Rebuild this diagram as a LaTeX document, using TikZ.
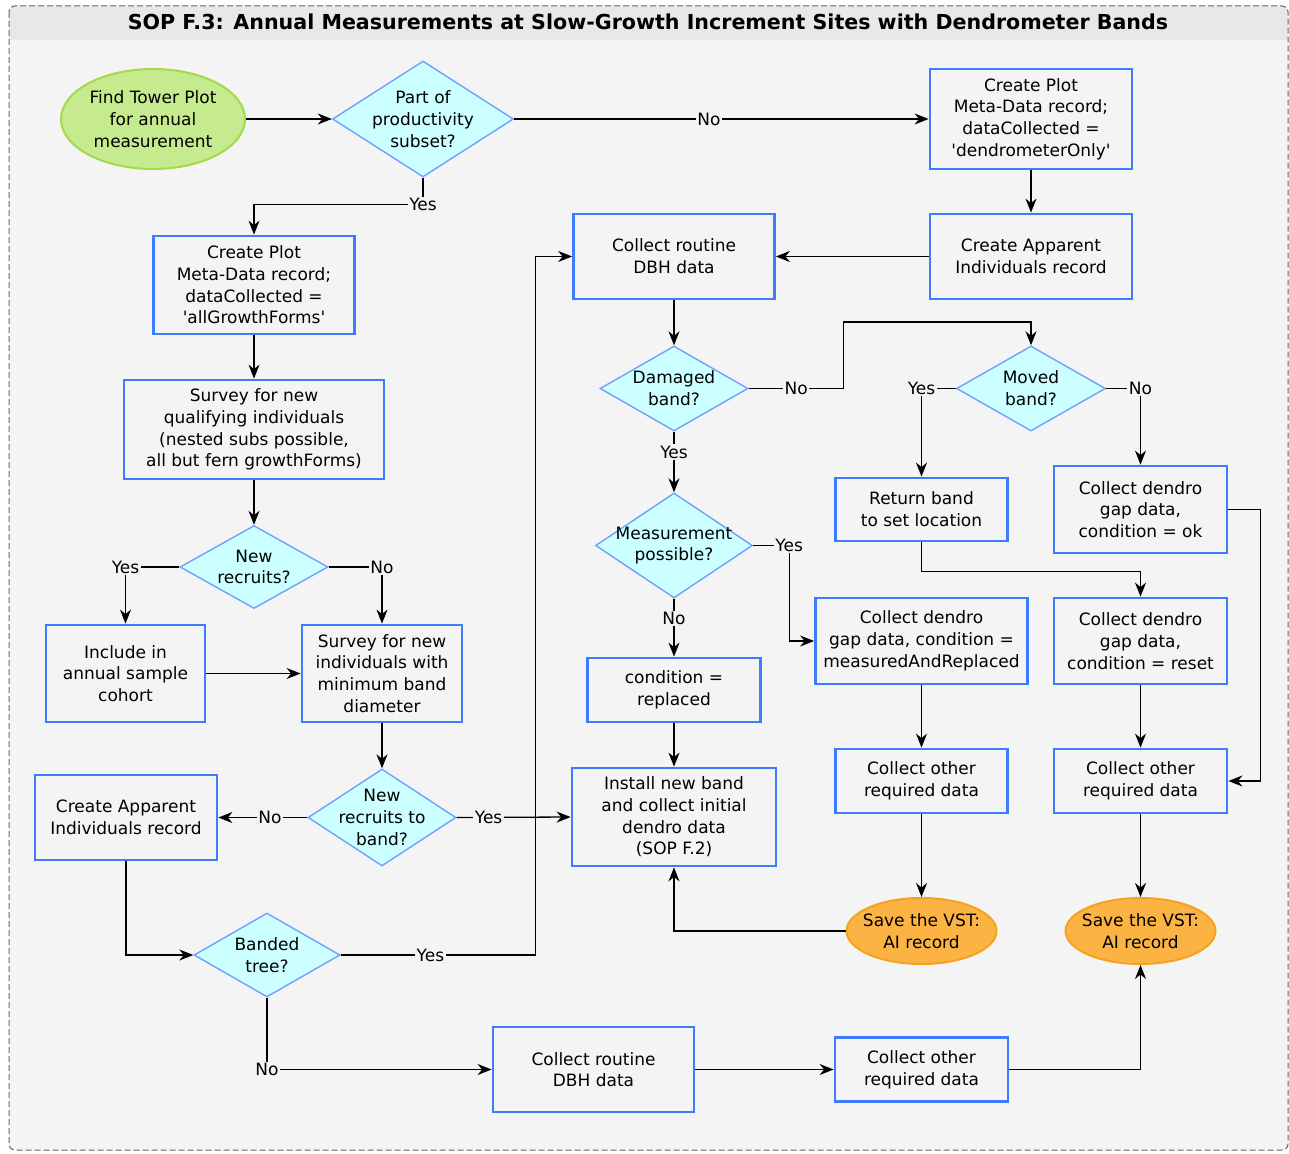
\documentclass[tikz,border=0pt]{standalone}
\usepackage{fontspec}
\setmainfont{DejaVu Sans}
\usetikzlibrary{shapes.geometric,arrows.meta}
\definecolor{bgc}{HTML}{F4F4F4}
\definecolor{titlec}{HTML}{E8E8E8}
\definecolor{boxb}{HTML}{3F7BFF}
\definecolor{diab}{HTML}{6FA0FF}
\definecolor{diaf}{HTML}{CCFFFF}
\definecolor{greenf}{HTML}{C6EB8F}
\definecolor{greenb}{HTML}{A6D84A}
\definecolor{orangef}{HTML}{FBB343}
\definecolor{orangeb}{HTML}{F5A21F}
\definecolor{framec}{HTML}{666666}
\tikzset{
  txt/.style={font=\fontsize{17}{21.7}\selectfont, align=center, text=black},
  box/.style={txt, draw=boxb, line width=2.8pt, fill=bgc, inner sep=0pt, rectangle},
  dia/.style={diamond, draw=diab, line width=1.4pt, fill=diaf, inner sep=0pt},
  startel/.style={ellipse, draw=greenb, line width=2pt, fill=greenf, inner sep=0pt},
  endel/.style={ellipse, draw=orangeb, line width=2pt, fill=orangef, inner sep=0pt},
  arr/.style={draw=black, line width=1.3pt, -{Stealth[length=14pt,width=11pt,inset=4.5pt]}},
  lbl/.style={txt, fill=bgc, inner sep=1.5pt},
}
\begin{document}
\begin{tikzpicture}[x=1pt,y=-1pt]
\useasboundingbox (0,0) rectangle (1289,1153);
\fill[white] (0,0) rectangle (1289,1153);
% frame
\fill[bgc, rounded corners=6pt] (9,6) rectangle (1288,1150);
\fill[titlec, rounded corners=6pt] (9,6) rectangle (1288,40);
\fill[titlec] (9,20) rectangle (1288,40);
\draw[framec, line width=1pt, dash pattern=on 6pt off 3pt, rounded corners=6pt] (9,6) rectangle (1288,1150);
\node[font=\fontsize{20.6}{24}\selectfont\bfseries] (title) at (648,22) {SOP F.3: Annual Measurements at Slow-Growth Increment Sites with Dendrometer Bands};

% start
\node[startel, minimum width=184pt, minimum height=100pt] (start) at (153,119) {};
\node[txt] (startt) at (start) {Find Tower Plot\\for annual\\measurement};

% diamonds
\node[dia, minimum width=181pt, minimum height=116pt] (d1) at (423,119) {};
\node[txt] (d1t) at (d1) {Part of\\productivity\\subset?};
\node[dia, minimum width=148pt, minimum height=83pt] (d2) at (254,567) {};
\node[txt] (d2t) at (d2) {New\\recruits?};
\node[dia, minimum width=148pt, minimum height=97pt] (d3) at (382,817.5) {};
\node[txt] (d3t) at (d3) {New\\recruits to\\band?};
\node[dia, minimum width=146pt, minimum height=84pt] (d4) at (267,955) {};
\node[txt] (d4t) at (d4) {Banded\\tree?};
\node[dia, minimum width=148pt, minimum height=85pt] (d5) at (674,388.5) {};
\node[txt] (d5t) at (d5) {Damaged\\band?};
\node[dia, minimum width=149pt, minimum height=85pt] (d6) at (1031,388.5) {};
\node[txt] (d6t) at (d6) {Moved\\band?};
\node[dia, minimum width=157pt, minimum height=105pt] (d7) at (674,545.5) {};
\node[txt] (d7t) at (d7) {Measurement\\possible?};

% boxes
\node[box, minimum width=202pt, minimum height=100pt] (cpm2) at (1031,119) {Create Plot\\Meta-Data record;\\dataCollected =\\\textquotesingle dendrometerOnly\textquotesingle};
\node[box, minimum width=202pt, minimum height=85pt] (cai2) at (1031,256.5) {Create Apparent\\Individuals record};
\node[box, minimum width=201pt, minimum height=85pt] (dbh1) at (674,256.5) {Collect routine\\DBH data};
\node[box, minimum width=201pt, minimum height=98pt] (cpm1) at (254,285) {Create Plot\\Meta-Data record;\\dataCollected =\\\textquotesingle allGrowthForms\textquotesingle};
\node[box, minimum width=260pt, minimum height=99pt] (surv) at (254,429.5) {Survey for new\\qualifying individuals\\(nested subs possible,\\all but fern growthForms)};
\node[box, minimum width=159pt, minimum height=97pt] (inc) at (125.5,673.5) {Include in\\annual sample\\cohort};
\node[box, minimum width=160pt, minimum height=97pt] (s2) at (382,673.5) {Survey for new\\individuals with\\minimum band\\diameter};
\node[box, minimum width=182pt, minimum height=85pt] (cai1) at (126,817.5) {Create Apparent\\Individuals record};
\node[box, minimum width=201pt, minimum height=85pt] (dbh2) at (593.5,1069.5) {Collect routine\\DBH data};
\node[box, minimum width=173pt, minimum height=64pt] (co3) at (921.5,1069.5) {Collect other\\required data};
\node[box, minimum width=172pt, minimum height=63pt] (ret) at (921.5,509.5) {Return band\\to set location};
\node[box, minimum width=173pt, minimum height=87pt] (cdok) at (1140.5,509.5) {Collect dendro\\gap data,\\condition = ok};
\node[box, minimum width=212pt, minimum height=86pt] (cdmr) at (921.5,641) {Collect dendro\\gap data, condition =\\measuredAndReplaced};
\node[box, minimum width=173pt, minimum height=86pt] (cdrst) at (1140.5,641) {Collect dendro\\gap data,\\condition = reset};
\node[box, minimum width=173pt, minimum height=64pt] (condrep) at (674,690) {condition =\\replaced};
\node[box, minimum width=204pt, minimum height=98pt] (inst) at (674,817) {Install new band\\and collect initial\\dendro data\\(SOP F.2)};
\node[box, minimum width=172pt, minimum height=64pt] (co1) at (921.5,781) {Collect other\\required data};
\node[box, minimum width=173pt, minimum height=64pt] (co2) at (1140.5,781) {Collect other\\required data};

% end ellipses
\node[endel, minimum width=150pt, minimum height=66pt] (sv1) at (921.5,931) {};
\node[txt] (sv1t) at (sv1) {Save the VST:\\AI record};
\node[endel, minimum width=150pt, minimum height=66pt] (sv2) at (1140.5,931) {};
\node[txt] (sv2t) at (sv2) {Save the VST:\\AI record};

% connectors
\draw[arr] (start.east) -- (d1.west);
\draw[arr] (d1.east) -- node[lbl, pos=0.47]{No} (cpm2.west);
\draw[arr] (d1.south) -- ++(0,27) node[lbl]{Yes} -| (cpm1.north);
\draw[arr] (cpm1.south) -- (surv.north);
\draw[arr] (surv.south) -- (d2.north);
\draw[arr] (d2.west) -| node[lbl, pos=0.5]{Yes} (inc.north);
\draw[arr] (d2.east) -| node[lbl, pos=0.5]{No} (s2.north);
\draw[arr] (inc.east) -- (s2.west);
\draw[arr] (s2.south) -- (d3.north);
\draw[arr] (d3.west) -- node[lbl, pos=0.42]{No} (cai1.east);
\draw[arr] (cai1.south) |- (d4.west);
\draw[arr] (d4.east) -- node[lbl, pos=0.46]{Yes} ++(195,0) |- (dbh1.west);
\draw[arr] (d3.east) -- node[lbl, pos=0.28]{Yes} (inst.west);
\draw[arr] (d4.south) |- node[lbl, pos=0.5]{No} (dbh2.west);
\draw[arr] (dbh2.east) -- (co3.west);
\draw[arr] (co3.east) -| (sv2.south);
\draw[arr] (cpm2.south) -- (cai2.north);
\draw[arr] (cai2.west) -- (dbh1.east);
\draw[arr] (dbh1.south) -- (d5.north);
\draw[arr] (d5.east) -- node[lbl, pos=0.5]{No} ++(95,0) -- ++(0,-66.5) -| (d6.north);
\draw[arr] (d6.west) -| node[lbl, pos=0.5]{Yes} (ret.north);
\draw[arr] (d6.east) -| node[lbl, pos=0.5]{No} (cdok.north);
\draw[arr] (d5.south) -- node[lbl, pos=0.34]{Yes} (d7.north);
\draw[arr] (d7.east) -- ++(36,0) node[lbl]{Yes} |- (cdmr.west);
\draw[arr] (d7.south) -- node[lbl, pos=0.34]{No} (condrep.north);
\draw[arr] (condrep.south) -- (inst.north);
\draw[arr] (ret.south) -- ++(0,29) -| (cdrst.north);
\draw[arr] (cdmr.south) -- (co1.north);
\draw[arr] (cdrst.south) -- (co2.north);
\draw[arr] (cdok.east) -- ++(32,0) |- (co2.east);
\draw[arr] (co1.south) -- (sv1.north);
\draw[arr] (co2.south) -- (sv2.north);
\draw[arr] (sv1.west) -| (inst.south);
\end{tikzpicture}
\end{document}
